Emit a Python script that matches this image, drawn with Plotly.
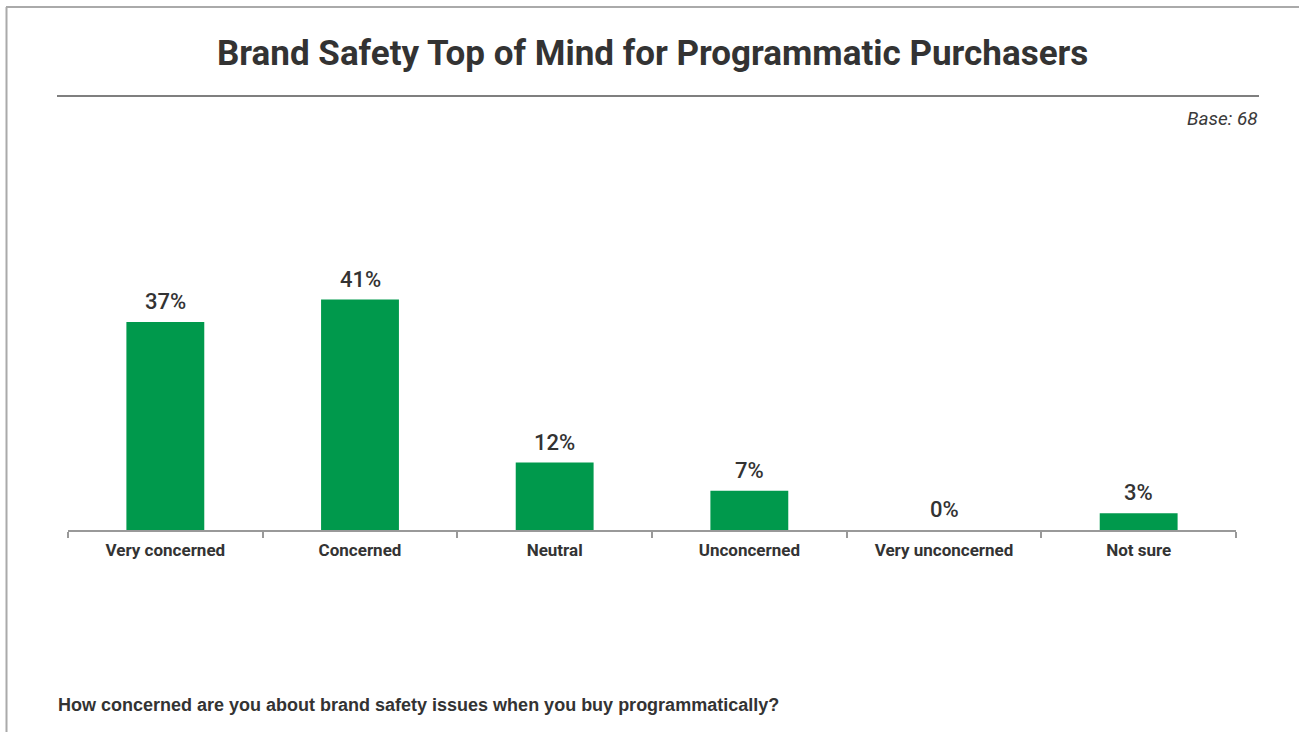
import plotly.graph_objects as go

# Survey responses: share of programmatic buyers by level of concern
categories = ["Very concerned", "Concerned", "Neutral", "Unconcerned", "Very unconcerned", "Not sure"]
shares = [37, 41, 12, 7, 0, 3]
value_labels = ["37%", "41%", "12%", "7%", "0%", "3%"]

title_text = "Brand Safety Top of Mind for Programmatic Purchasers"
base_text = "Base: 68"
question_text = "How concerned are you about brand safety issues when you buy programmatically?"

W, H = 1299, 732
L, R, T, B = 68, 63, 249, 202
plot_w = W - L - R
plot_h = H - T - B

HEAD_FONT = "Roboto, Arial, sans-serif"
TEXT_COLOR = "#333333"
BAR_COLOR = "#00994C"


def px_x(px):
    return (px - L) / plot_w


def px_y(py):
    return (H - B - py) / plot_h


fig = go.Figure()
fig.add_trace(go.Bar(
    x=categories,
    y=shares,
    marker=dict(color=BAR_COLOR, line=dict(width=0)),
    width=0.4,
    hoverinfo="x+y",
))

annotations = []
for cat, val, lab in zip(categories, shares, value_labels):
    annotations.append(dict(
        x=cat, y=val, xref="x", yref="y", text=lab, showarrow=False,
        yanchor="bottom", yshift=6,
        font=dict(family=HEAD_FONT, size=22, color=TEXT_COLOR, weight=500),
    ))

annotations += [
    dict(x=px_x(652), y=px_y(54), xref="paper", yref="paper", text="<b>" + title_text + "</b>",
         showarrow=False, xanchor="center", yanchor="middle",
         font=dict(family=HEAD_FONT, size=35, color=TEXT_COLOR)),
    dict(x=px_x(1260), y=px_y(118), xref="paper", yref="paper", text="<i>" + base_text + "</i>",
         showarrow=False, xanchor="right", yanchor="middle",
         font=dict(family=HEAD_FONT, size=19, color="#3a3a3a")),
    dict(x=px_x(56), y=px_y(705), xref="paper", yref="paper", text="<b>" + question_text + "</b>",
         showarrow=False, xanchor="left", yanchor="middle",
         font=dict(family="Liberation Sans, Arial, sans-serif", size=18, color=TEXT_COLOR)),
]

shapes = [
    # outer frame (left and top edges)
    dict(type="line", xref="paper", yref="paper", x0=px_x(6.5), x1=px_x(6.5), y0=px_y(7), y1=px_y(740),
         line=dict(color="#AAAAAA", width=2)),
    dict(type="line", xref="paper", yref="paper", x0=px_x(6), x1=px_x(1310), y0=px_y(7), y1=px_y(7),
         line=dict(color="#AAAAAA", width=2)),
    # rule under the title
    dict(type="line", xref="paper", yref="paper", x0=px_x(57), x1=px_x(1259), y0=px_y(96), y1=px_y(96),
         line=dict(color="#555555", width=1.5)),
]

fig.update_layout(
    width=W, height=H,
    margin=dict(l=L, r=R, t=T, b=B),
    paper_bgcolor="white", plot_bgcolor="white",
    showlegend=False,
    bargap=0.6,
    annotations=annotations,
    shapes=shapes,
    xaxis=dict(
        type="category",
        showline=True, linecolor="#999999", linewidth=1.5,
        ticks="outside", tickson="boundaries", ticklen=6, tickcolor="#999999", tickwidth=1.5,
        ticklabelstandoff=4,
        tickfont=dict(family=HEAD_FONT, size=17, color=TEXT_COLOR, weight="bold"),
        showgrid=False, zeroline=False,
    ),
    yaxis=dict(
        range=[0, 50], visible=False, showgrid=False, zeroline=False,
    ),
)

fig.write_html("out.html")
